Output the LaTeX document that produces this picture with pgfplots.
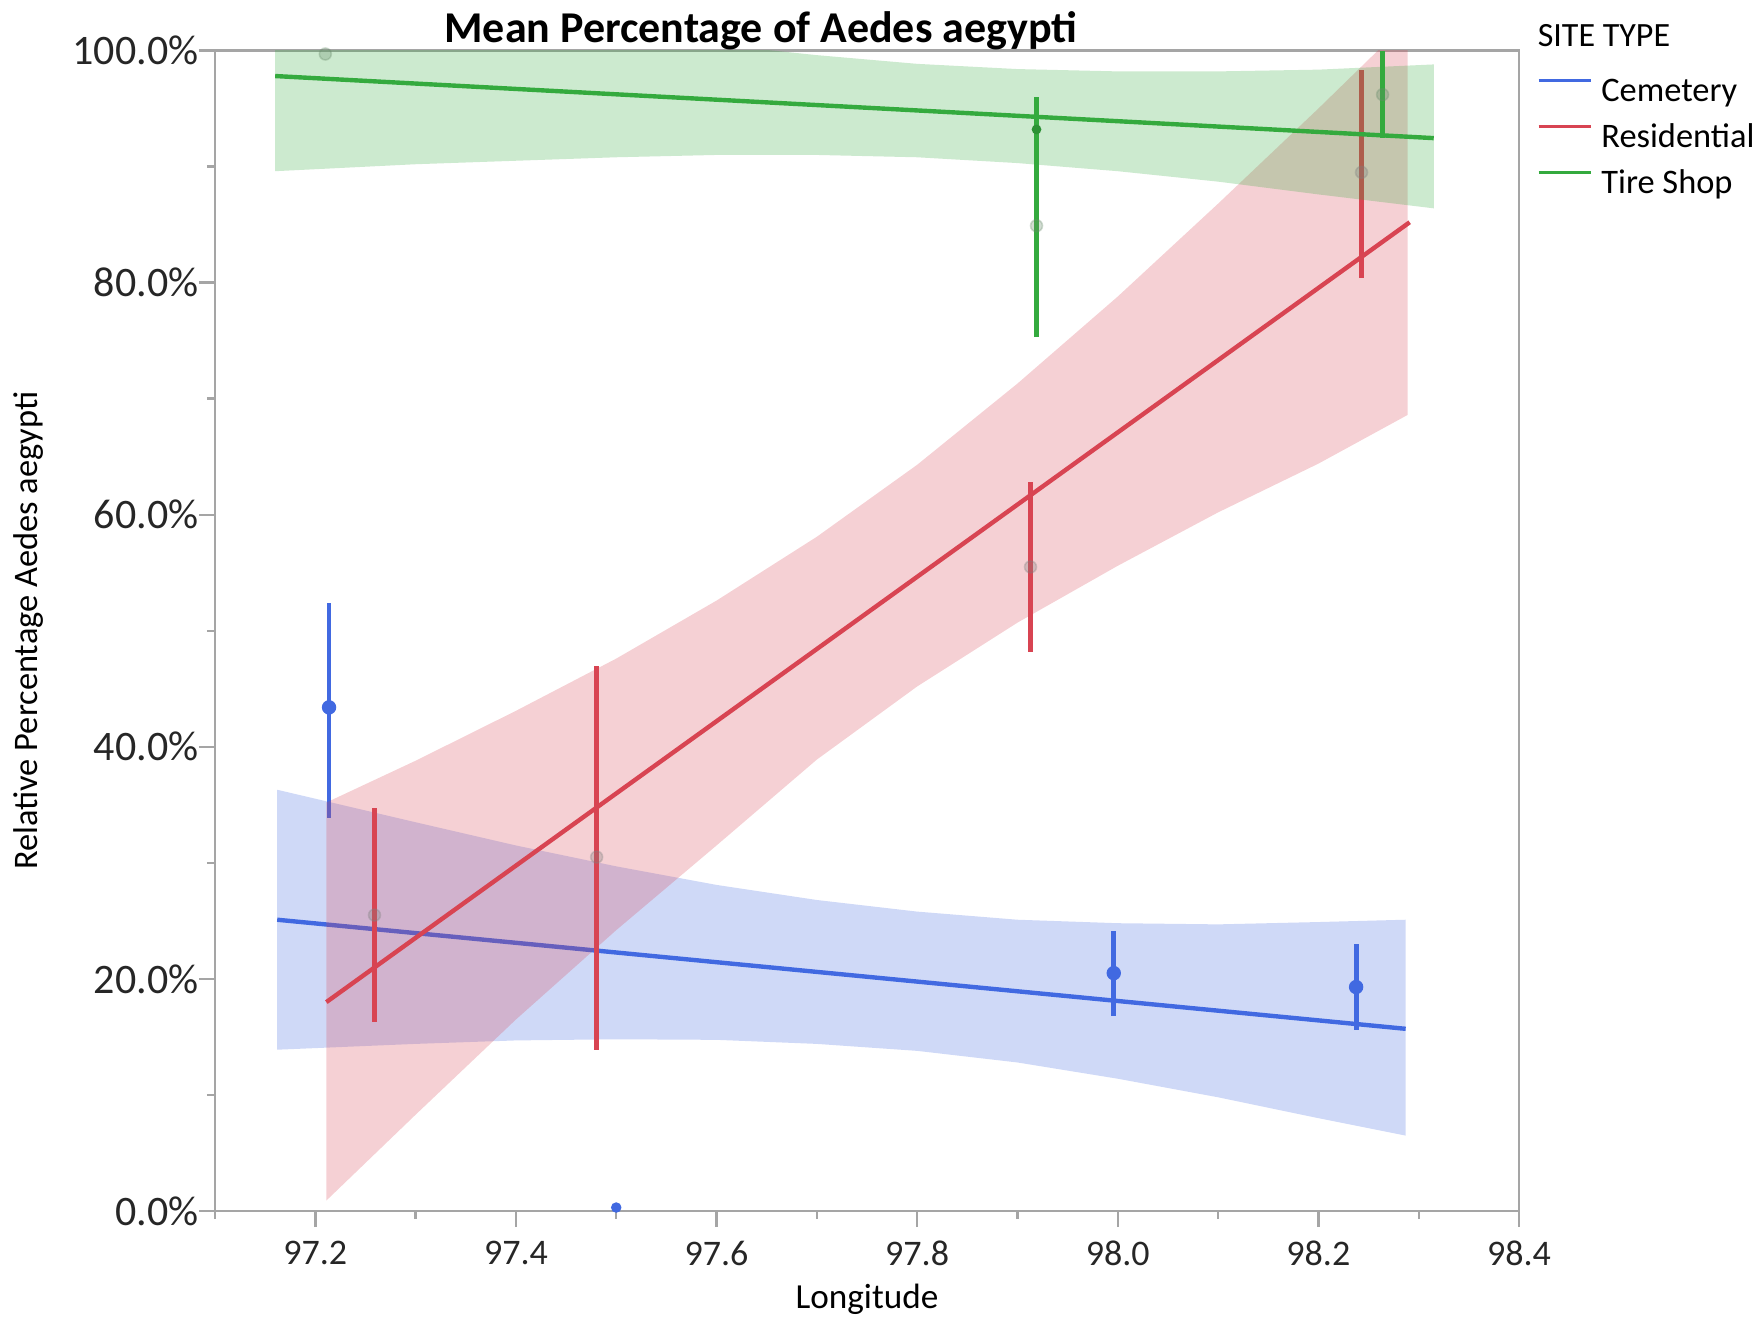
\documentclass[border=0pt]{standalone}
\usepackage{pgfplots}
\pgfplotsset{compat=1.18}
\usepackage{fontspec}
\setmainfont{Carlito}
\definecolor{blueC}{RGB}{65,105,225}
\definecolor{redC}{RGB}{216,68,82}
\definecolor{greenC}{RGB}{52,170,62}
\definecolor{axgray}{RGB}{165,165,165}
\begin{document}
\begin{tikzpicture}
\begin{axis}[
  scale only axis,
  width=326pt, height=290.125pt,
  xmin=97.1, xmax=98.4, ymin=0, ymax=100,
  unbounded coords=jump,
  axis line style={axgray, line width=0.6pt},
  tick style={axgray, line width=0.6pt},
  tick pos=left, tick align=outside,
  major tick length=4pt, minor tick length=2pt,
  xtick={97.2,97.4,97.6,97.8,98.0,98.2,98.4},
  xticklabels={97.2,97.4,97.6,97.8,98.0,98.2,98.4},
  minor xtick={97.1,97.3,97.5,97.7,97.9,98.1,98.3},
  ytick={0,20,40,60,80,100},
  yticklabels={0.0\%,20.0\%,40.0\%,60.0\%,80.0\%,100.0\%},
  minor ytick={10,30,50,70,90},
  xticklabel style={font=\fontsize{9}{10}\selectfont, text=black!85},
  yticklabel style={font=\fontsize{10.5}{12}\selectfont, text=black!85, xshift=3.4pt},
  every axis title shift=0pt,
  title={Mean Percentage of Aedes aegypti},
  title style={at={(axis description cs:0.4187,1)}, anchor=base, yshift=1.9pt, font=\bfseries\fontsize{11}{13}\selectfont, inner sep=0pt},
  xlabel={Longitude},
  xlabel style={at={(axis description cs:0.5,0)}, anchor=base, yshift=-24.25pt, font=\fontsize{8.8}{10}\selectfont, inner sep=0pt},
  ylabel={Relative Percentage Aedes aegypti},
  ylabel style={at={(axis description cs:-0.131,0.5)}, anchor=south, rotate=0, font=\fontsize{8.6}{10}\selectfont, inner sep=0pt},
  legend style={draw=none, fill=none, inner sep=0pt, outer sep=0pt, at={(axis description cs:1,1)}, anchor=north west, xshift=4.5pt, yshift=-6.5pt,
    font=\fontsize{8.6}{10}\selectfont, row sep=3.4pt, column sep=2.25pt,
    nodes={inner sep=0pt, outer sep=0pt, text height=6.3pt, text depth=1.8pt}},
  legend cell align=left,
  legend image code/.code={\draw[#1, line width=0.85pt] (0pt,3.1pt) -- (13pt,3.1pt);},
]
% ---- Cemetery ----
\addplot[draw=none, fill=blueC, fill opacity=0.25, forget plot] coordinates {
 (97.162,36.3) (97.3,33.5) (97.4,31.5) (97.5,29.7) (97.6,28.1) (97.7,26.8) (97.8,25.8) (97.9,25.1) (98.0,24.8) (98.1,24.7) (98.2,24.9) (98.287,25.1)
 (98.287,6.5) (98.2,8.0) (98.1,9.8) (98.0,11.4) (97.9,12.8) (97.8,13.8) (97.7,14.4) (97.6,14.75) (97.5,14.8) (97.4,14.7) (97.3,14.4) (97.162,13.9)} -- cycle;
\addplot[blueC, line width=1.1pt, forget plot] coordinates {(97.162,25.1) (98.287,15.7)};
\addplot[blueC, line width=1.2pt, forget plot] table[row sep=\\] {
 x y\\ 97.2137 33.9\\ 97.2137 52.4\\ nan nan\\
 97.996 16.8\\ 97.996 24.1\\ nan nan\\
 98.2376 15.6\\ 98.2376 23.0\\};
\addplot[forget plot, only marks, mark=*, mark size=1.6pt, blueC] coordinates {(97.2137,43.4) (97.996,20.5) (98.2376,19.3)};
\addplot[forget plot, only marks, mark=*, mark size=1.1pt, blueC] coordinates {(97.5,0.3)};
% ---- Residential ----
\addplot[draw=none, fill=redC, fill opacity=0.25, forget plot] coordinates {
 (97.211,35.2) (97.3,38.8) (97.4,43.1) (97.5,47.6) (97.6,52.6) (97.7,58.1) (97.8,64.3) (97.9,71.3) (98.0,78.8) (98.1,86.8) (98.2,95.0) (98.289,102.5)
 (98.289,68.6) (98.2,64.4) (98.1,60.2) (98.0,55.6) (97.9,50.7) (97.8,45.2) (97.7,38.9) (97.6,31.5) (97.5,24.2) (97.4,16.5) (97.3,8.3) (97.211,0.9)} -- cycle;
\addplot[redC, line width=1.1pt, forget plot] coordinates {(97.211,18.0) (98.291,85.2)};
\addplot[redC, line width=1.2pt, forget plot] table[row sep=\\] {
 x y\\ 97.259 16.3\\ 97.259 34.7\\ nan nan\\
 97.4805 13.9\\ 97.4805 47.0\\ nan nan\\
 97.913 48.2\\ 97.913 62.8\\ nan nan\\
 98.243 80.4\\ 98.243 98.3\\};
\addplot[forget plot, only marks, mark=*, mark size=1.5pt, gray, opacity=0.3] coordinates {(97.259,25.5) (97.4805,30.5) (97.913,55.5) (98.243,89.5)};
% ---- Tire Shop ----
\addplot[draw=none, fill=greenC, fill opacity=0.25, forget plot] coordinates {
 (97.16,106) (97.3,104.1) (97.4,102.8) (97.5,101.6) (97.6,100.5) (97.7,99.6) (97.8,98.85) (97.9,98.4) (98.0,98.2) (98.1,98.2) (98.2,98.35) (98.315,98.8)
 (98.315,86.4) (98.2,87.6) (98.1,88.7) (98.0,89.6) (97.9,90.3) (97.8,90.8) (97.7,91.0) (97.6,91.0) (97.5,90.8) (97.4,90.5) (97.3,90.2) (97.16,89.6)} -- cycle;
\addplot[greenC, line width=1.1pt, forget plot] coordinates {(97.16,97.8) (98.315,92.45)};
\addplot[greenC, line width=1.2pt, forget plot] table[row sep=\\] {
 x y\\ 97.919 75.3\\ 97.919 96.0\\ nan nan\\
 98.264 92.5\\ 98.264 100\\};
\addplot[forget plot, only marks, mark=*, mark size=1.5pt, gray!70!greenC, opacity=0.3] coordinates {(97.919,84.9) (98.264,96.2) (97.21,99.7)};
\addplot[forget plot, only marks, mark=*, mark size=1.0pt, greenC!85!black] coordinates {(97.919,93.2)};
% ---- legend ----
\addlegendimage{blueC}
\addlegendentry{Cemetery}
\addlegendimage{redC}
\addlegendentry{Residential}
\addlegendimage{greenC}
\addlegendentry{Tire Shop}
\end{axis}
\node[anchor=base west, inner sep=0pt, xshift=4.5pt, yshift=1pt, font=\fontsize{8.5}{10}\selectfont] at (current axis.north east) {SITE TYPE};
\path ([xshift=-53.75pt, yshift=-27.25pt]current axis.south west) rectangle ++(438.75pt,330pt);
\end{tikzpicture}
\end{document}
